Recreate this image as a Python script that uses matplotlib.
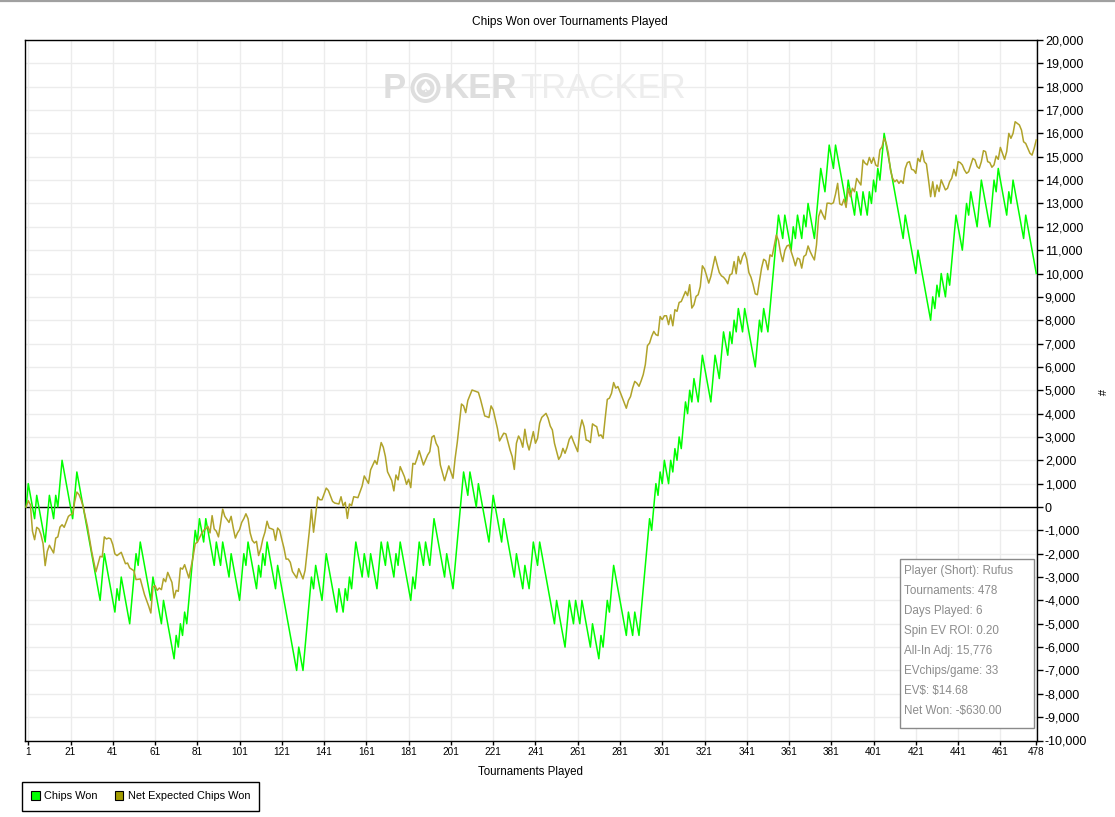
import matplotlib
matplotlib.use("Agg")
import matplotlib.pyplot as plt
from matplotlib.patches import Patch, Rectangle, Circle
from matplotlib.lines import Line2D
from matplotlib.ticker import FuncFormatter, FixedLocator

plt.rcParams['font.family'] = ['Liberation Sans', 'DejaVu Sans']

# ---------------- data ----------------
# Chips Won: turning points (tournament, chips)
chips_t = [0, 1, 4, 5, 9, 11, 13, 14, 15, 17,
           22, 24, 35, 37, 42, 43, 44, 45, 49, 52,
           53, 54, 59, 60, 64, 65, 70, 71, 72, 73,
           74, 75, 76, 80, 81, 82, 84, 85, 89, 90,
           92, 93, 96, 97, 101, 103, 104, 105, 109, 110,
           111, 112, 113, 114, 118, 119, 128, 129, 131, 135,
           136, 137, 140, 142, 147, 148, 150, 151, 152, 153,
           154, 156, 159, 160, 162, 163, 166, 168, 170, 171,
           174, 175, 176, 177, 182, 183, 184, 186, 188, 189,
           191, 193, 198, 199, 202, 207, 209, 210, 213, 214,
           219, 221, 225, 226, 231, 232, 235, 236, 238, 240,
           242, 243, 250, 251, 255, 257, 259, 260, 262, 263,
           267, 268, 271, 272, 273, 275, 276, 278, 284, 285,
           287, 288, 290, 295, 296, 298, 299, 300, 301, 302,
           304, 305, 306, 307, 308, 309, 310, 312, 313, 314,
           315, 316, 318, 320, 324, 326, 328, 330, 332, 333,
           334, 335, 336, 337, 339, 340, 345, 347, 348, 349,
           351, 356, 358, 359, 362, 363, 364, 365, 367, 368,
           369, 370, 373, 376, 378, 380, 382, 383, 388, 389,
           392, 393, 395, 396, 398, 399, 400, 401, 402, 403,
           404, 406, 415, 416, 421, 422, 428, 429, 430, 431,
           432, 433, 435, 436, 437, 440, 443, 445, 446, 447,
           450, 452, 456, 458, 459, 460, 464, 465, 466, 467,
           472, 473, 478]
chips_v = [0, 1000, -500, 500, -1500, 500, -500, 500, 0, 2000,
           -500, 1500, -4000, -2000, -4500, -3500, -4000, -3000, -5000, -2000,
           -2500, -1500, -4000, -3000, -5000, -4000, -6500, -5500, -6000, -5000,
           -5500, -4500, -5000, -1000, -1500, -500, -1500, -500, -2500, -1500,
           -2500, -1500, -3000, -2000, -4000, -2000, -2500, -1500, -3500, -2500,
           -3000, -2000, -2500, -1500, -3500, -2500, -7000, -6000, -7000, -3000,
           -3500, -2500, -4000, -2000, -4500, -3500, -4500, -3500, -4000, -3000,
           -3500, -1500, -3000, -2000, -3000, -2000, -3500, -1500, -2500, -1500,
           -3000, -2000, -2500, -1500, -4000, -3000, -3500, -1500, -2500, -1500,
           -2500, -500, -3000, -2000, -3500, 1500, 500, 1500, 0, 1000,
           -1500, 500, -1500, -500, -3000, -2000, -3500, -2500, -3500, -1500,
           -2500, -1500, -5000, -4000, -6000, -4000, -5000, -4000, -5000, -4000,
           -6000, -5000, -6500, -5500, -6000, -4000, -4500, -2500, -5500, -4500,
           -5500, -4500, -5500, -500, -1000, 1000, 500, 1500, 1000, 2000,
           1000, 2000, 1500, 2500, 2000, 3000, 2500, 4500, 4000, 5000,
           4500, 5500, 4500, 6500, 4500, 6500, 5500, 7500, 6500, 7500,
           7000, 8000, 7500, 8500, 7500, 8500, 6000, 8000, 7500, 8500,
           7500, 12500, 11500, 12500, 11000, 12000, 11500, 12500, 11500, 12500,
           12000, 13000, 11500, 14500, 13500, 15500, 14500, 15500, 13000, 14000,
           12500, 13500, 12500, 13500, 12500, 13500, 13000, 14000, 13500, 14500,
           14000, 16000, 11500, 12500, 10000, 11000, 8000, 9000, 8500, 9500,
           9000, 10000, 9000, 10000, 9500, 12500, 11000, 13000, 12500, 13500,
           12000, 14000, 12000, 14000, 13500, 14500, 12500, 13500, 13000, 14000,
           11500, 12500, 10000]

# Net Expected Chips Won (tournament, chips)
ev_t = [0, 1, 2, 3, 4, 5, 6, 7, 8, 9,
        10, 11, 13, 14, 15, 16, 17, 18, 20, 21,
        22, 23, 24, 25, 26, 27, 29, 31, 33, 35,
        36, 37, 38, 39, 40, 41, 42, 43, 45, 47,
        48, 49, 51, 52, 54, 56, 58, 59, 60, 61,
        62, 63, 64, 65, 66, 67, 69, 70, 71, 72,
        73, 74, 75, 77, 78, 79, 80, 81, 82, 83,
        84, 85, 86, 87, 88, 89, 90, 91, 92, 93,
        94, 96, 97, 98, 99, 100, 101, 102, 103, 104,
        105, 106, 107, 108, 109, 110, 111, 112, 113, 114,
        115, 116, 117, 118, 119, 120, 121, 122, 123, 124,
        125, 126, 128, 129, 131, 132, 134, 135, 136, 138,
        139, 140, 142, 143, 145, 146, 148, 149, 150, 151,
        152, 153, 154, 155, 157, 159, 160, 162, 163, 165,
        166, 168, 169, 170, 171, 173, 174, 175, 176, 177,
        179, 180, 181, 182, 183, 184, 185, 186, 188, 190,
        191, 192, 193, 194, 195, 196, 198, 200, 202, 203,
        204, 206, 207, 208, 209, 211, 213, 214, 215, 217,
        218, 219, 220, 221, 223, 224, 226, 227, 229, 230,
        231, 232, 233, 234, 235, 236, 237, 238, 239, 240,
        241, 242, 243, 244, 246, 247, 248, 249, 250, 252,
        253, 254, 255, 256, 257, 258, 259, 260, 261, 262,
        263, 264, 265, 266, 267, 268, 269, 270, 271, 272,
        273, 274, 275, 276, 277, 278, 279, 280, 281, 282,
        284, 285, 286, 287, 288, 289, 290, 291, 292, 293,
        294, 295, 296, 297, 298, 299, 300, 301, 302, 303,
        304, 305, 306, 307, 308, 309, 310, 311, 312, 313,
        314, 315, 316, 317, 318, 319, 320, 321, 322, 323,
        324, 325, 326, 327, 328, 329, 330, 331, 332, 333,
        334, 335, 336, 337, 338, 339, 340, 341, 342, 343,
        344, 345, 346, 347, 348, 349, 350, 351, 352, 353,
        354, 355, 356, 357, 358, 359, 360, 361, 362, 363,
        364, 365, 366, 367, 368, 369, 370, 371, 372, 373,
        374, 375, 376, 377, 378, 379, 380, 381, 382, 383,
        384, 385, 386, 387, 388, 389, 390, 391, 392, 393,
        394, 395, 396, 397, 398, 399, 400, 401, 402, 403,
        404, 405, 406, 407, 408, 409, 410, 411, 412, 413,
        414, 415, 416, 417, 418, 419, 420, 421, 422, 423,
        424, 425, 426, 427, 428, 429, 430, 431, 432, 433,
        434, 435, 436, 437, 438, 439, 440, 441, 442, 443,
        444, 445, 446, 447, 448, 449, 450, 451, 452, 453,
        454, 455, 456, 457, 458, 459, 460, 461, 462, 463,
        464, 465, 466, 467, 468, 470, 471, 472, 473, 474,
        475, 476, 477, 478]
ev_v = [0, 270, 100, -1040, -1400, -870, -940, -1180, -1570, -2510,
        -1900, -1640, -1970, -1330, -1280, -860, -760, -870, -400, -330,
        -290, 240, 640, 530, 310, 0, -830, -1900, -2780, -2110,
        -2140, -1280, -1370, -1330, -1360, -1610, -2010, -2080, -1940, -2430,
        -2400, -2610, -2730, -3110, -3080, -3750, -4250, -4540, -3430, -3370,
        -3570, -3470, -3540, -3070, -3200, -2800, -3230, -3900, -3570, -3610,
        -2610, -2660, -2470, -3040, -2580, -2140, -1570, -1510, -1330, -1140,
        -1000, -940, -830, -1110, -370, -940, -1040, -1280, -710, -90,
        -400, -660, -400, -900, -1330, -1110, -970, -660, -500, -290,
        -500, -1110, -1430, -1540, -1470, -2080, -1800, -1370, -1080, -610,
        -900, -930, -970, -1430, -900, -1010, -1400, -1760, -2230, -2230,
        -2370, -2760, -3040, -2640, -3080, -2710, -1040, -110, -1080, 430,
        310, 310, 810, 710, 240, 170, 130, 440, 40, 200,
        -490, 130, 60, 440, 400, 900, 1330, 1010, 1590, 1990,
        1830, 2760, 2560, 2160, 1510, 1130, 690, 1370, 1160, 1730,
        1300, 970, 1190, 830, 1870, 1830, 2090, 2410, 1800, 2230,
        2370, 2990, 3060, 2730, 2560, 1800, 1130, 1760, 1230, 2090,
        2760, 4410, 4330, 4040, 4560, 5010, 4940, 4910, 4610, 3900,
        3870, 3830, 4330, 4160, 3370, 2830, 3160, 3130, 2440, 2160,
        1610, 2730, 3040, 2870, 2560, 3330, 2760, 2440, 2840, 3230,
        2730, 2940, 3590, 3840, 4010, 3800, 3470, 3300, 2730, 2040,
        2190, 2510, 2300, 2560, 2900, 3040, 2800, 2590, 2370, 3300,
        3730, 3440, 2870, 2840, 2760, 3560, 3490, 3440, 3040, 3090,
        2940, 3800, 4610, 4660, 4870, 5330, 5090, 5160, 4940, 4700,
        4230, 4560, 4730, 5100, 5380, 5300, 5170, 5400, 5670, 6100,
        6910, 7020, 7310, 7520, 7380, 7340, 8160, 8020, 8190, 8190,
        7810, 8230, 7760, 8450, 8380, 8760, 8800, 9020, 9230, 9050,
        9520, 8520, 8660, 9020, 9090, 9440, 10330, 10190, 9900, 9590,
        9870, 10300, 10730, 10370, 10040, 9900, 9840, 9730, 9560, 9940,
        9990, 10510, 9990, 10730, 10410, 10730, 10900, 10610, 10040, 9840,
        9520, 9130, 9090, 9660, 10230, 10610, 10540, 10160, 10800, 10730,
        11180, 11650, 11410, 10870, 10510, 10980, 11180, 11220, 10940, 10660,
        10330, 10660, 10610, 10230, 10730, 10800, 11180, 10940, 10750, 10580,
        11230, 12440, 12720, 12510, 12320, 13010, 13010, 12980, 13030, 13400,
        13860, 12980, 12930, 13180, 12830, 13650, 13290, 13650, 13500, 14070,
        13930, 13790, 14860, 14720, 14650, 14970, 14720, 14970, 14650, 14580,
        15290, 15430, 15790, 15570, 15150, 14430, 14080, 13930, 14010, 13860,
        13980, 13860, 14500, 14750, 14790, 14460, 14430, 14290, 14930, 14790,
        15260, 14790, 14690, 14010, 13290, 13930, 13290, 13790, 13510, 14010,
        13790, 13580, 13650, 13930, 14080, 14460, 14180, 14790, 14750, 14650,
        14430, 14290, 14360, 14650, 14930, 14860, 14580, 14500, 14790, 15260,
        15220, 14790, 14750, 14550, 14650, 15030, 14890, 15400, 15150, 14890,
        15220, 16000, 15790, 16000, 16500, 16360, 16140, 15640, 15570, 15360,
        15150, 15070, 15360, 15720]

x_ticks = [1, 21, 41, 61, 81, 101, 121, 141, 161, 181, 201, 221, 241, 261,
           281, 301, 321, 341, 361, 381, 401, 421, 441, 461, 478]
y_ticks = list(range(-10000, 20001, 1000))

series_names = ["Chips Won", "Net Expected Chips Won"]
stats_lines = ["Player (Short): Rufus", "Tournaments: 478", "Days Played: 6",
               "Spin EV ROI: 0.20", "All-In Adj: 15,776", "EVchips/game: 33",
               "EV$: $14.68", "Net Won: -$630.00"]

# ---------------- figure ----------------
W, H = 1115, 817
fig = plt.figure(figsize=(W / 100, H / 100), dpi=100)
fig.patch.set_facecolor('white')

L, R, T, B = 25.3, 1036.5, 40, 740.5
ax = fig.add_axes([L / W, 1 - B / H, (R - L) / W, (B - T) / H])
ax.set_xlim(-0.4, 478.1)
ax.set_ylim(-10000, 20000)

ax.xaxis.set_major_locator(FixedLocator(x_ticks))
ax.yaxis.set_major_locator(FixedLocator(y_ticks))
ax.yaxis.set_major_formatter(FuncFormatter(lambda v, p: f"{int(v):,}"))
ax.yaxis.tick_right()
ax.tick_params(axis='x', direction='out', length=3, width=1, labelsize=7.2, pad=2)
ax.tick_params(axis='y', direction='out', length=4, width=1, labelsize=9, pad=2)
ax.grid(True, color='#ececec', lw=1, zorder=0)
ax.set_axisbelow(True)
for s in ax.spines.values():
    s.set_color('black')
    s.set_linewidth(1)

ax.axhline(0, color='black', lw=1, zorder=2)

green = '#00ff00'
olive_line = '#b0a32a'
olive_patch = '#a39c00'
ax.plot(chips_t, chips_v, color=green, lw=1.1, zorder=3)
ax.plot(ev_t, ev_v, color=olive_line, lw=1.1, zorder=3)

# axis labels
fig.text(531 / W, 1 - 772 / H, "Tournaments Played", ha='center', va='center', fontsize=8.3)
fig.text(1100 / W, 1 - 392 / H, "#", ha='center', va='center', fontsize=8, rotation=270)
fig.text(570 / W, 1 - 22 / H, "Chips Won over Tournaments Played", ha='center', va='center',
         fontsize=8.6)

# top border line
fig.add_artist(Line2D([0, 1], [1 - 0.8 / H, 1 - 0.8 / H], transform=fig.transFigure,
                      color='#a0a0a0', lw=1.6))

# watermark
wm_y = 1 - 88 / H
wm_fam = ['Liberation Sans', 'DejaVu Sans']
fig.text(383 / W, wm_y, "P", ha='left', va='center', fontsize=25, fontweight='bold',
         color='#dedede', family=wm_fam)
fig.add_artist(Circle((425.5 / 100, (H - 88) / 100), 0.15, transform=fig.dpi_scale_trans,
                      facecolor='#dedede', edgecolor='none'))
fig.add_artist(Circle((425.5 / 100, (H - 88) / 100), 0.10, transform=fig.dpi_scale_trans,
                      facecolor='none', edgecolor='white', lw=1.5))
fig.text(425.5 / W, wm_y, "\u2660", ha='center', va='center', fontsize=11, color='white',
         family=['DejaVu Sans'])
fig.text(444 / W, wm_y, "KER", ha='left', va='center', fontsize=25, fontweight='bold',
         color='#dedede', family=wm_fam)
fig.text(520 / W, wm_y, "TRACKER", ha='left', va='center', fontsize=25,
         color='#ededed', family=wm_fam)

# stats box
fig.add_artist(Rectangle((899.5 / W, 1 - 727.5 / H), (1033.5 - 899.5) / W, (727.5 - 558.5) / H,
                         transform=fig.transFigure, facecolor='white', edgecolor='#8a8a8a',
                         lw=1, zorder=5))
for i, line in enumerate(stats_lines):
    fig.text(904.5 / W, 1 - (571 + 20 * i) / H, line.replace('$', r'\$'), ha='left',
             va='center', fontsize=8.4, color='#8c8c8c', zorder=6)

# legend
handles = [Patch(facecolor=green, edgecolor='black', lw=0.8, label=series_names[0]),
           Patch(facecolor=olive_patch, edgecolor='black', lw=0.8, label=series_names[1])]
leg = fig.legend(handles=handles, loc='upper left', bbox_to_anchor=(22 / W, 1 - 782 / H),
                 ncol=2, fontsize=7.9, frameon=True, fancybox=False, framealpha=1,
                 edgecolor='black', handlelength=0.75, handleheight=0.75, handletextpad=0.4,
                 columnspacing=1.6, borderpad=0.85, borderaxespad=0)
leg.get_frame().set_linewidth(1)

fig.savefig("out.png", dpi=100, facecolor='white')
